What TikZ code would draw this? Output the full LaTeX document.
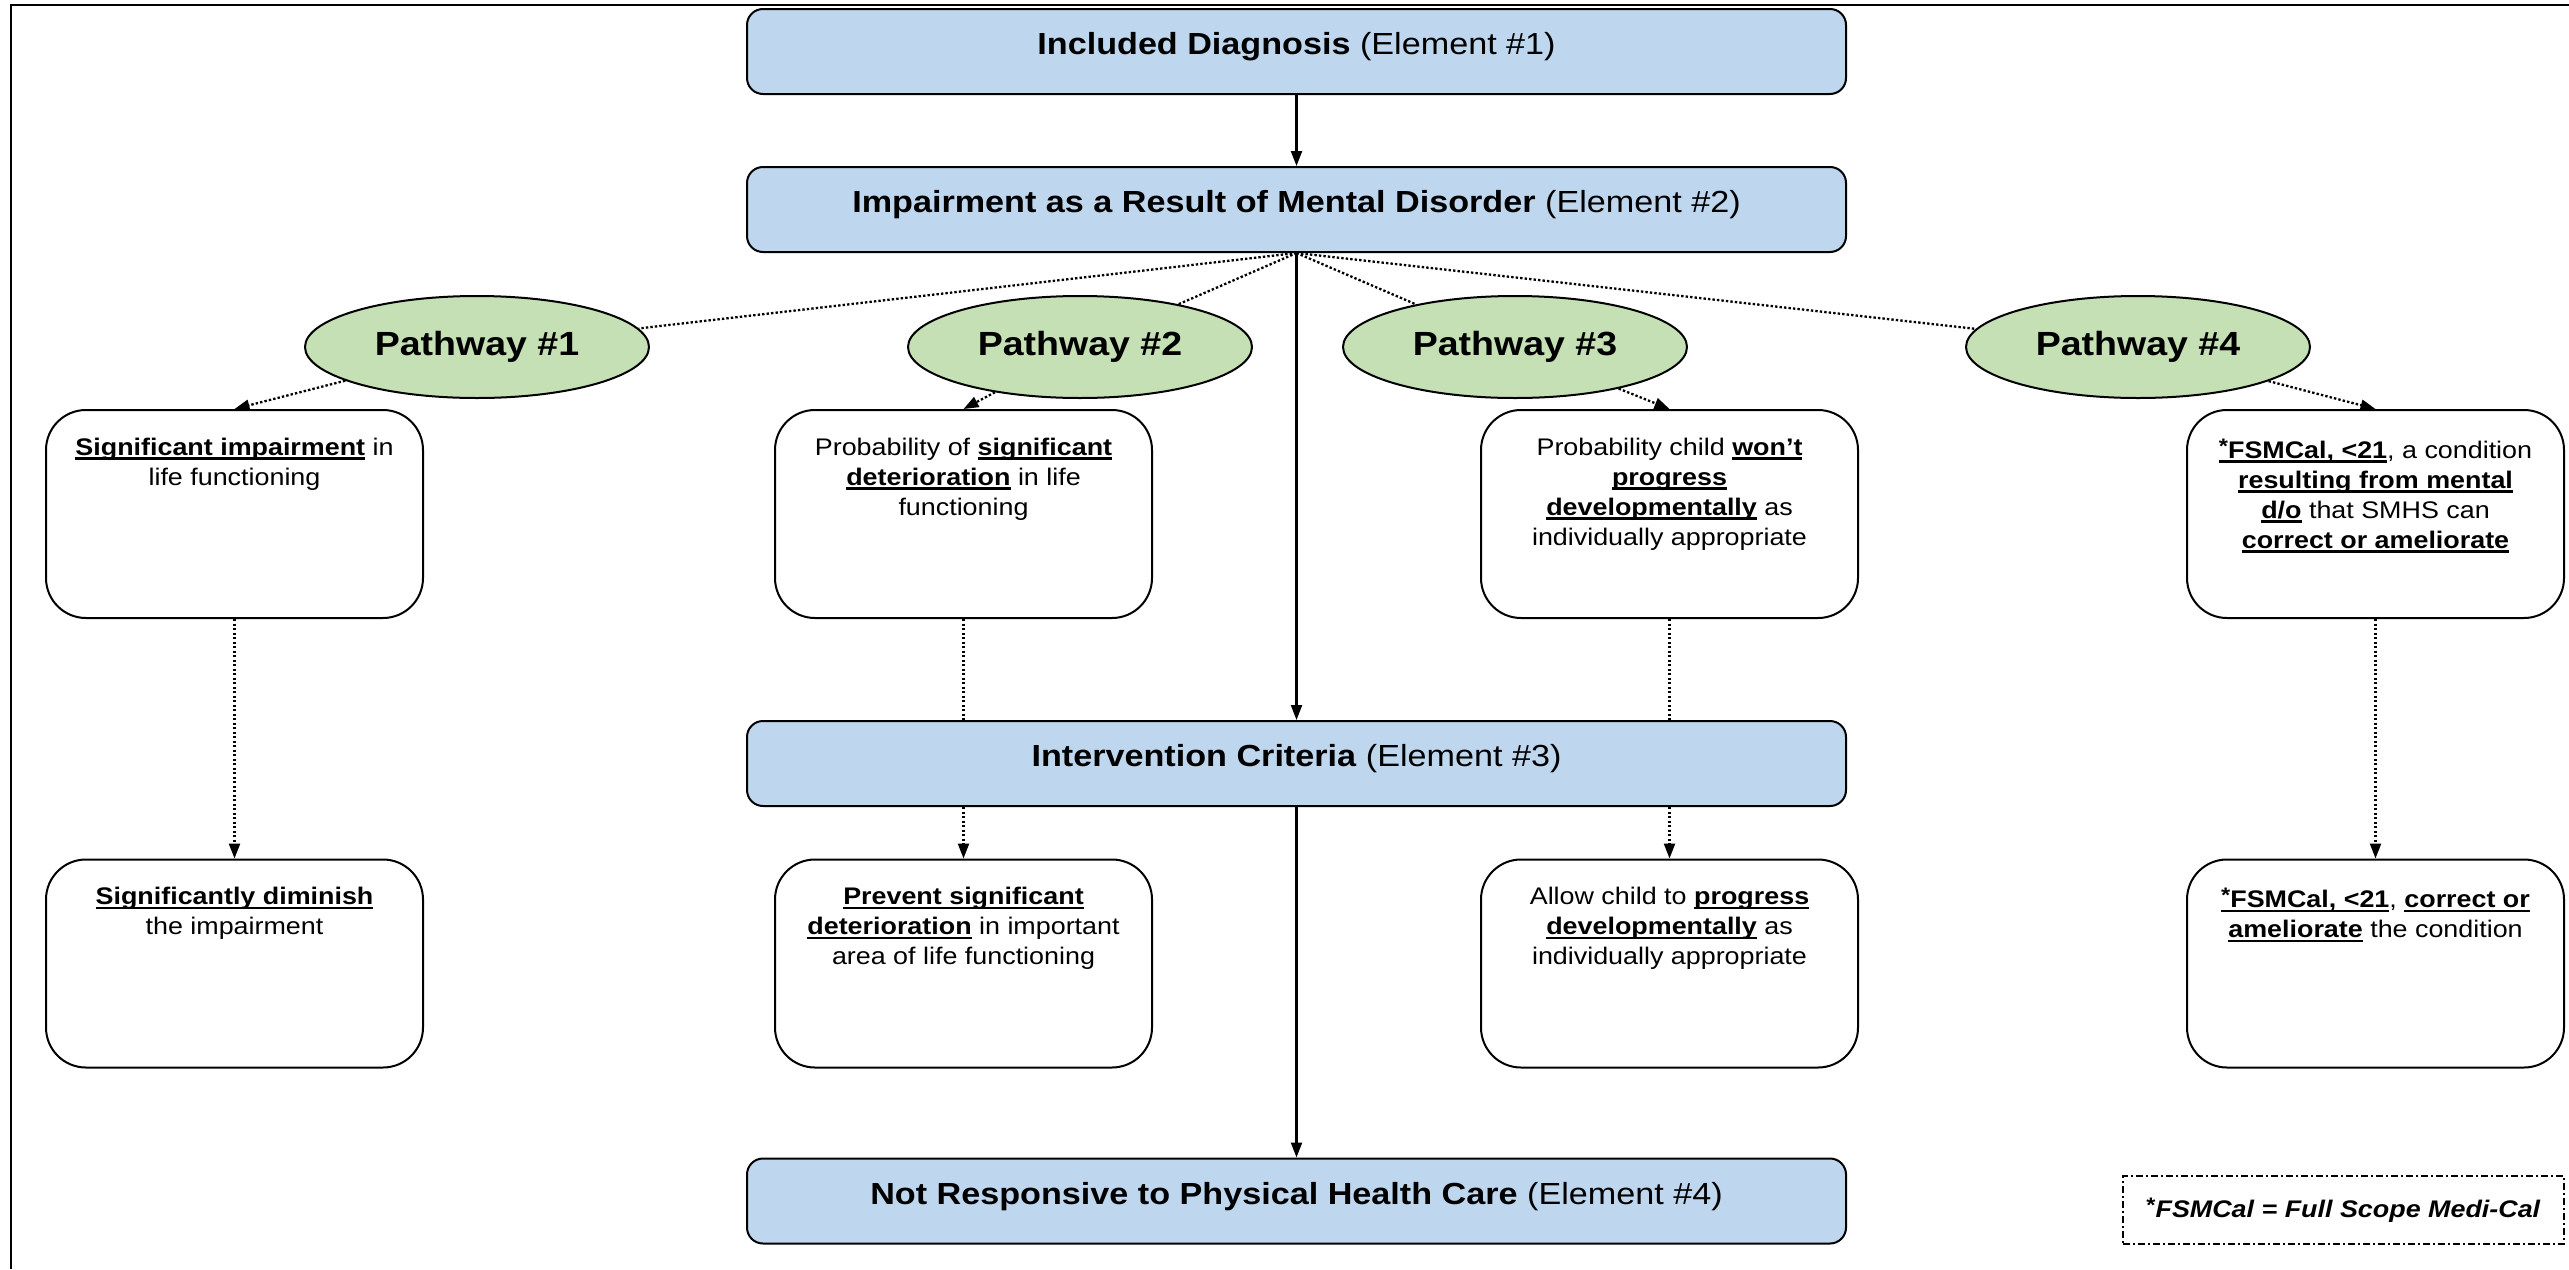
\documentclass[tikz,border=0pt]{standalone}
\usepackage{fontspec}
\setmainfont{Liberation Sans}[FakeStretch=1.12]
\usetikzlibrary{arrows.meta,shapes.geometric}
\definecolor{boxblue}{RGB}{190,214,238}
\definecolor{pathgreen}{RGB}{197,224,180}
\newcommand{\myul}[1]{\leavevmode\setbox0\hbox{#1}\rlap{\rule[-4.5pt]{\wd0}{2.2pt}}\box0}
\newcommand{\bu}[1]{{\bfseries\myul{#1}}}
\newcommand{\myast}{\raisebox{5pt}{\fontsize{21}{21}\selectfont *}}
\newcommand{\boxtext}[2][24pt]{\parbox[c][208pt][t]{377pt}{\vspace*{#1}\centering\fontsize{24}{30}\selectfont\strut #2}}
\tikzset{
  elem/.style={draw, line width=2pt, fill=boxblue, rounded corners=16pt,
    minimum width=1099pt, minimum height=85pt, inner sep=0pt,
    text height=22pt, text depth=16pt, font=\fontsize{30.5}{36}\selectfont},
  pathway/.style={ellipse, draw, line width=2pt, fill=pathgreen,
    minimum width=344pt, minimum height=102pt, inner sep=0pt,
    font=\fontsize{33.5}{40}\selectfont\bfseries},
  cbox/.style={draw, line width=2pt, rounded corners=40pt, inner sep=0pt,
    minimum width=377pt, minimum height=208pt},
  legendbox/.style={draw, line width=1.8pt, dash pattern=on 7pt off 3pt on 2pt off 3pt,
    minimum width=441pt, minimum height=68pt, inner sep=0pt,
    font=\fontsize{24}{30}\selectfont},
  solidarrow/.style={line width=2.2pt, -{Triangle[length=15pt,width=11pt]}},
  dotline/.style={line width=2.3pt, dash pattern=on 2.4pt off 2.1pt},
  dotarrow/.style={dotline, -{Triangle[length=15pt,width=11pt]}},
}
\begin{document}
\begin{tikzpicture}[x=1pt,y=-1pt]
\useasboundingbox (0,0) rectangle (2569,1269);
% outer frame (top and left edges visible)
\draw[line width=2.5pt] (11,1269) -- (11,5) -- (2569,5);

% element boxes
\node[elem] (e1) at (1296.5,51.5) {\textbf{Included Diagnosis} (Element \#1)};
\node[elem] (e2) at (1296.5,209.5) {\textbf{Impairment as a Result of Mental Disorder} (Element \#2)};
\node[elem] (ic) at (1296.5,763.5) {\textbf{Intervention Criteria} (Element \#3)};
\node[elem] (e4) at (1296.5,1201) {\textbf{Not Responsive to Physical Health Care} (Element \#4)};

% pathways
\node[pathway] (p1) at (477,347) {Pathway \#1};
\node[pathway] (p2) at (1080,347) {Pathway \#2};
\node[pathway] (p3) at (1515,347) {Pathway \#3};
\node[pathway] (p4) at (2138,347) {Pathway \#4};

% row 1 boxes
\node[cbox] (b1) at (234.5,514) {\boxtext{\bu{Significant impairment} in\\ life functioning}};
\node[cbox] (b2) at (963.5,514) {\boxtext{Probability of \bu{significant}\\ \bu{deterioration} in life\\ functioning}};
\node[cbox] (b3) at (1669.5,514) {\boxtext{Probability child \bu{won’t}\\ \bu{progress}\\ \bu{developmentally} as\\ individually appropriate}};
\node[cbox] (b4) at (2375.5,514) {\boxtext[27pt]{\bu{\myast FSMCal, <21}, a condition\\ \bu{resulting from mental}\\ \bu{d/o} that SMHS can\\ \bu{correct or ameliorate}}};

% row 2 boxes
\node[cbox] (c1) at (234.5,963.5) {\boxtext{\bu{Significantly diminish}\\ the impairment}};
\node[cbox] (c2) at (963.5,963.5) {\boxtext{\bu{Prevent significant}\\ \bu{deterioration} in important\\ area of life functioning}};
\node[cbox] (c3) at (1669.5,963.5) {\boxtext{Allow child to \bu{progress}\\ \bu{developmentally} as\\ individually appropriate}};
\node[cbox] (c4) at (2375.5,963.5) {\boxtext[27pt]{\bu{\myast FSMCal, <21}, \bu{correct or}\\ \bu{ameliorate} the condition}};

% legend
\node[legendbox] (leg) at (2343.5,1210) {\textbf{\myast}\textbf{\textit{FSMCal = Full Scope Medi-Cal}}};

% main flow
\draw[solidarrow] (e1.south) -- (e2.north);
\draw[solidarrow] (e2.south) -- (ic.north);
\draw[solidarrow] (ic.south) -- (e4.north);

% to pathways
\draw[dotline] (e2.south) -- (p1);
\draw[dotline] (e2.south) -- (p2);
\draw[dotline] (e2.south) -- (p3);
\draw[dotline] (e2.south) -- (p4);

% pathways to boxes
\draw[dotarrow] (p1) -- (b1.north);
\draw[dotarrow] (p2) -- (b2.north);
\draw[dotarrow] (p3) -- (b3.north);
\draw[dotarrow] (p4) -- (b4.north);

% row 1 to row 2
\draw[dotarrow] (b1.south) -- (c1.north);
\draw[dotline] (b2.south) -- (b2.south |- ic.north);
\draw[dotarrow] (ic.south -| c2.north) -- (c2.north);
\draw[dotline] (b3.south) -- (b3.south |- ic.north);
\draw[dotarrow] (ic.south -| c3.north) -- (c3.north);
\draw[dotarrow] (b4.south) -- (c4.north);
\end{tikzpicture}
\end{document}
